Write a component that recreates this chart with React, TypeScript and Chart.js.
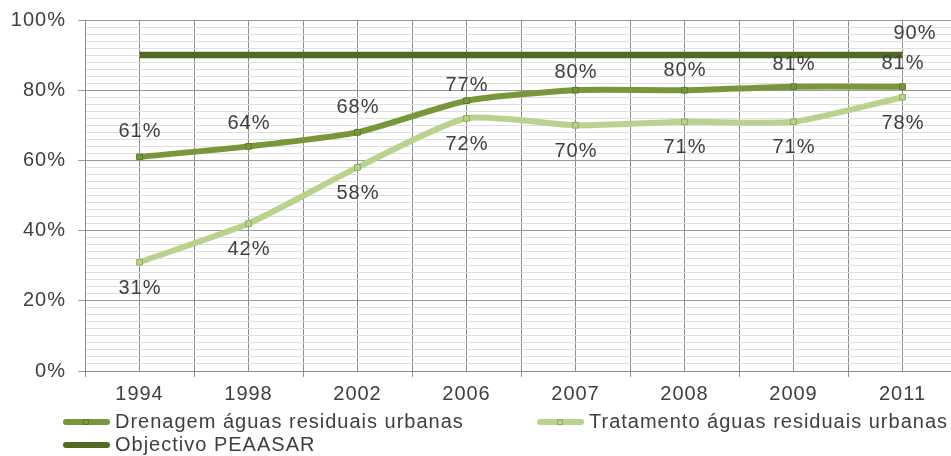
import React, { useEffect, useRef } from "react";
import { Chart, registerables } from "chart.js";

Chart.register(...registerables);

// ---- data ----
const categories = ["1994", "1998", "2002", "2006", "2007", "2008", "2009", "2011"];
const drenagem = [61, 64, 68, 77, 80, 80, 81, 81];
const tratamento = [31, 42, 58, 72, 70, 71, 71, 78];
const objectivo = [90, 90, 90, 90, 90, 90, 90, 90];
const seriesNames = [
  "Drenagem águas residuais urbanas",
  "Tratamento águas residuais urbanas",
  "Objectivo PEAASAR",
];
const yTickMajor = [0, 20, 40, 60, 80, 100];

// ---- styles ----
const FONT = '"Liberation Sans", Arial, sans-serif';
const FSIZE = 20;
const TEXT = "#404040";
const C_OBJ = "#4f6b22";
const C_DREN = "#77973a";
const C_TRAT = "#b9d38e";
const P_DREN = "#587a25";
const P_TRAT = "#8dad58";
const LETTER = "1px";

const labelPlugin = {
  id: "pctLabels",
  afterDatasetsDraw(chart: any) {
    const ctx = chart.ctx;
    ctx.save();
    ctx.letterSpacing = LETTER;
    ctx.font = `${FSIZE}px ${FONT}`;
    ctx.fillStyle = TEXT;
    ctx.textAlign = "center";
    ctx.textBaseline = "middle";
    chart.data.datasets.forEach((ds: any, i: number) => {
      const cfg = ds.pctLabel;
      if (!cfg) return;
      const meta = chart.getDatasetMeta(i);
      meta.data.forEach((pt: any, j: number) => {
        if (cfg.onlyLast && j !== meta.data.length - 1) return;
        const dy = Array.isArray(cfg.dy) ? cfg.dy[j] : cfg.dy;
        const dx = cfg.dx || 0;
        ctx.fillText(ds.data[j] + "%", pt.x + dx + 0.5, pt.y + dy);
      });
    });
    ctx.restore();
  },
};

const spacingPlugin = {
  id: "letterSpacing",
  beforeInit(chart: any) {
    chart.ctx.letterSpacing = LETTER;
  },
  beforeLayout(chart: any) {
    chart.ctx.letterSpacing = LETTER;
  },
  beforeDraw(chart: any) {
    chart.ctx.letterSpacing = LETTER;
  },
};

const legendItems = [
  { name: seriesNames[0], color: C_DREN, marker: true, fill: C_DREN, border: P_DREN },
  { name: seriesNames[1], color: C_TRAT, marker: true, fill: C_TRAT, border: P_TRAT },
  { name: seriesNames[2], color: C_OBJ, marker: false, fill: "", border: "" },
];

export default function App() {
  const ref = useRef<HTMLCanvasElement | null>(null);

  useEffect(() => {
    if (!ref.current) return;
    const chart = new Chart(ref.current, {
      type: "line",
      data: {
        labels: categories,
        datasets: [
          {
            label: seriesNames[0],
            data: drenagem,
            borderColor: C_DREN,
            backgroundColor: C_DREN,
            borderWidth: 6,
            tension: 0.2,
            pointStyle: "rect",
            pointRadius: 4,
            pointBorderWidth: 1,
            pointBorderColor: P_DREN,
            pointBackgroundColor: C_DREN,
            pctLabel: { dy: [-25, -23, -25, -15, -18, -20, -22, -23] },
          } as any,
          {
            label: seriesNames[1],
            data: tratamento,
            borderColor: C_TRAT,
            backgroundColor: C_TRAT,
            borderWidth: 6,
            tension: 0.2,
            pointStyle: "rect",
            pointRadius: 4,
            pointBorderWidth: 1,
            pointBorderColor: P_TRAT,
            pointBackgroundColor: C_TRAT,
            pctLabel: { dy: 26 },
          } as any,
          {
            label: seriesNames[2],
            data: objectivo,
            borderColor: C_OBJ,
            backgroundColor: C_OBJ,
            borderWidth: 6.5,
            tension: 0,
            pointRadius: 0,
            pctLabel: { dy: -22, dx: 12, onlyLast: true },
          } as any,
        ],
      },
      options: {
        animation: false,
        responsive: true,
        maintainAspectRatio: false,
        layout: { padding: { top: 20, right: 1, left: 0, bottom: 0 } },
        plugins: {
          legend: { display: false },
          tooltip: { enabled: false },
          title: { display: false },
        },
        scales: {
          x: {
            type: "category",
            offset: true,
            grid: {
              offset: true,
              color: "#8c8c8c",
              lineWidth: 1,
              tickLength: 6,
              tickColor: "#8c8c8c",
            },
            border: { display: true, color: "#8c8c8c", width: 1 },
            ticks: {
              color: TEXT,
              font: { family: FONT, size: FSIZE },
              padding: 5,
              maxRotation: 0,
              autoSkip: false,
            },
          },
          x2: {
            type: "category",
            labels: categories,
            position: "top",
            offset: true,
            grid: {
              offset: false,
              color: "#8c8c8c",
              lineWidth: 1,
              drawTicks: false,
            },
            border: { display: false },
            ticks: { display: false },
            afterFit(scale: any) {
              scale.height = 0;
            },
          },
          y: {
            min: 0,
            max: 100,
            afterFit(scale: any) {
              scale.width = 85;
              scale.paddingTop = 0;
              scale.paddingBottom = 0;
            },
            ticks: {
              stepSize: 2,
              autoSkip: false,
              padding: 12,
              color: TEXT,
              font: { family: FONT, size: FSIZE },
              callback: (v: any) => (yTickMajor.includes(Number(v)) ? v + "%" : ""),
            },
            grid: {
              tickLength: 7,
              color: (c: any) =>
                c.tick && yTickMajor.includes(c.tick.value) ? "#9a9a9a" : "#dedede",
              tickColor: (c: any) =>
                c.tick && yTickMajor.includes(c.tick.value) ? "#9a9a9a" : "rgba(0,0,0,0)",
              lineWidth: 1,
            },
            border: { display: true, color: "#8c8c8c", width: 1 },
          },
        },
      } as any,
      plugins: [spacingPlugin, labelPlugin],
    });
    return () => chart.destroy();
  }, []);

  return (
    <div
      style={{
        position: "fixed",
        left: 0,
        top: 0,
        width: 951,
        height: 456,
        overflow: "hidden",
        background: "#ffffff",
      }}
    >
      <div style={{ position: "relative", width: 962, height: 411 }}>
        <canvas ref={ref} />
      </div>
      <div
        style={{
          position: "absolute",
          left: 63,
          top: 410,
          display: "grid",
          gridTemplateColumns: "474px auto",
          font: `${FSIZE}px ${FONT}`,
          letterSpacing: LETTER,
          lineHeight: "23px",
          color: TEXT,
        }}
      >
        {legendItems.map((it) => (
          <div
            key={it.name}
            style={{ display: "flex", alignItems: "center", whiteSpace: "nowrap" }}
          >
            <span
              style={{
                position: "relative",
                display: "inline-block",
                width: 47,
                height: 6,
                background: it.color,
                borderRadius: 3,
                marginRight: 5,
                flex: "none",
              }}
            >
              {it.marker ? (
                <span
                  style={{
                    position: "absolute",
                    left: 20,
                    top: 0,
                    width: 4,
                    height: 4,
                    boxSizing: "content-box",
                    border: `1px solid ${it.border}`,
                    background: it.fill,
                  }}
                />
              ) : null}
            </span>
            <span>{it.name}</span>
          </div>
        ))}
      </div>
    </div>
  );
}
